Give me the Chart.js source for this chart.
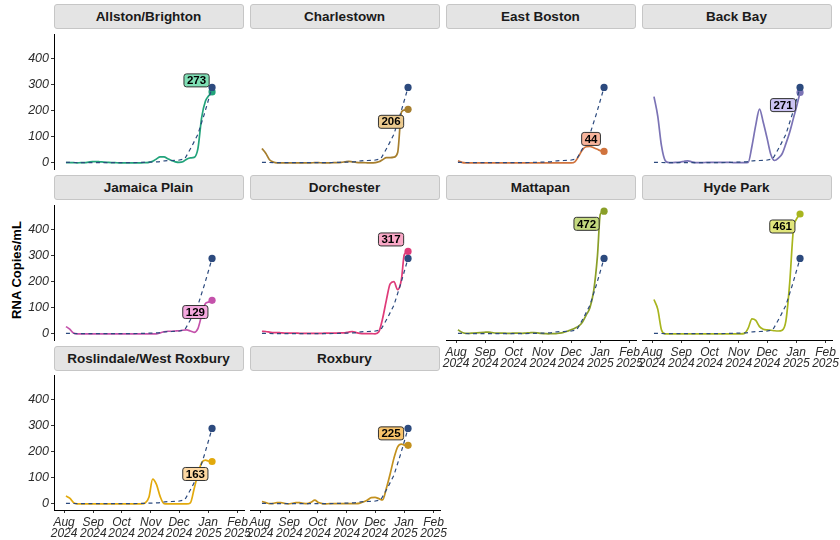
<!DOCTYPE html>
<html>
<head>
<meta charset="utf-8">
<script src="https://cdn.jsdelivr.net/npm/chart.js@4.4.1/dist/chart.umd.min.js"></script>
<style>
  body { margin: 0; background: #fff; width: 840px; height: 540px; position: relative; overflow: hidden;
         font-family: 'Liberation Sans', Arial, sans-serif; }
  .strip { position: absolute; height: 25px; background: #e4e4e4; border: 1px solid #c6c6c6; border-radius: 3px;
           box-sizing: border-box; font-weight: bold; font-size: 13.5px; line-height: 23px; text-align: center; color: #1a1a1a; }
  canvas { position: absolute; }
  #ytitle { position: absolute; left: 16px; top: 270px; transform: translate(-50%, -50%) rotate(-90deg);
            font-weight: bold; font-size: 13px; white-space: nowrap; color: #000; }
</style>
</head>
<body>
<div id="ytitle">RNA Copies/mL</div>
<script>
// days since Aug 1 2024
const days = [2, 6, 10, 14, 18, 22, 26, 30, 34, 38, 42, 46, 50, 54, 58, 62, 66, 70, 74, 78,
              82, 86, 90, 94, 98, 102, 106, 110, 114, 118, 122, 126, 130, 134, 138, 142, 146, 150, 153, 157];

const allstonBrighton = [1, 1, 1, 0, 1, 1, 3, 5, 5, 4, 3, 2, 1, 1, 0, 0, 0, 0, 0, 0,
                         0, 1, 2, 6, 15, 23, 23, 16, 9, 4, 2, 4, 14, 19, 21, 55, 175, 238, 256, 273];
const charlestown = [55, 37, 12, 3, 0, 0, 0, 0, 0, 0, 0, 0, 0, 0, 1, 1, 0, 0, 0, 1,
                     1, 2, 4, 6, 4, 2, 1, 1, 0, 0, 1, 4, 12, 20, 20, 22, 40, 195, 203, 206];
const eastBoston = [8, 2, 0, 0, 0, 0, 0, 0, 0, 0, 0, 0, 0, 0, 0, 0, 0, 0, 0, 0,
                    0, 0, 0, 0, 0, 0, 0, 0, 0, 0, 0, 4, 25, 50, 62, 63, 58, 52, 47, 44];
const backBay = [255, 180, 65, 8, 1, 1, 2, 3, 6, 8, 4, 1, 1, 1, 2, 2, 2, 2, 2, 2,
                 2, 1, 1, 1, 1, 2, 65, 145, 207, 155, 95, 32, 9, 18, 35, 74, 118, 172, 212, 271];
const jamaicaPlain = [28, 18, 3, 0, 0, 0, 0, 0, 0, 0, 0, 0, 0, 0, 0, 0, 0, 0, 0, 0,
                      0, 0, 0, 0, 0, 4, 8, 10, 10, 11, 12, 14, 15, 11, 6, 20, 72, 117, 122, 129];
const dorchester = [10, 9, 7, 5, 5, 4, 3, 3, 3, 3, 2, 2, 2, 2, 2, 2, 2, 3, 3, 3,
                    3, 4, 4, 7, 9, 5, 2, 1, 1, 1, 0, 8, 59, 130, 192, 201, 170, 210, 305, 317];
const mattapan = [16, 6, 2, 2, 3, 4, 5, 6, 7, 5, 3, 3, 3, 2, 2, 3, 3, 2, 3, 4,
                  5, 4, 2, 1, 0, 1, 1, 3, 6, 10, 16, 22, 30, 45, 72, 100, 165, 300, 460, 472];
const hydePark = [132, 95, 15, 0, 0, 0, 0, 0, 0, 0, 0, 0, 0, 0, 0, 0, 0, 0, 0, 0,
                  0, 0, 0, 0, 2, 22, 58, 52, 28, 18, 15, 14, 12, 11, 14, 50, 195, 405, 440, 461];
const roslindaleWestRoxbury = [30, 22, 5, 0, 0, 0, 0, 0, 0, 0, 0, 0, 0, 0, 0, 0, 0, 0, 0, 0,
                               0, 3, 25, 95, 75, 28, 1, 0, 0, 0, 0, 0, 0, 4, 58, 115, 158, 168, 165, 163];
const roxbury = [9, 5, 1, 2, 5, 5, 2, 0, 2, 5, 5, 2, 1, 6, 14, 5, 1, 0, 1, 1,
                 1, 1, 1, 1, 1, 1, 3, 8, 15, 24, 25, 20, 15, 60, 115, 175, 219, 230, 226, 225];

// citywide reference (dashed)
const cityDays = [2, 16, 30, 44, 58, 72, 86, 100, 107, 114, 121, 128, 135, 142, 149, 157];
const cityVals = [2, 1, 1, 1, 1, 1, 2, 4, 8, 9, 10, 15, 60, 110, 190, 290];

const names = ['Allston/Brighton', 'Charlestown', 'East Boston', 'Back Bay', 'Jamaica Plain',
               'Dorchester', 'Mattapan', 'Hyde Park', 'Roslindale/West Roxbury', 'Roxbury'];
const series = [allstonBrighton, charlestown, eastBoston, backBay, jamaicaPlain,
                dorchester, mattapan, hydePark, roslindaleWestRoxbury, roxbury];

const monthTicks = [0, 31, 61, 92, 122, 153, 184];
const monthLabels = [['Aug', '2024'], ['Sep', '2024'], ['Oct', '2024'], ['Nov', '2024'],
                     ['Dec', '2024'], ['Jan', '2025'], ['Feb', '2025']];
const yTicks = [0, 100, 200, 300, 400];

// styling
const lineColors = ['#22a37b', '#a67e2e', '#d0733d', '#7b73b5', '#c452ab',
                    '#df3b79', '#8a9f28', '#a8b51e', '#e2a90c', '#c3911e'];
const labelFills = ['#7fdfb5', '#ecca8e', '#f8b49b', '#cbc3f2', '#f5a9df',
                    '#faa8c7', '#c4d97f', '#e1e67c', '#fed8a2', '#f8c36b'];
const labelShift = [[-15.5, -11.5], [-17, 12.5], [-13, -12.5], [-17, 12.7], [-16.7, 11.7],
                    [-17, -12], [-17.5, 12.7], [-17.7, 12.5], [-16.7, 12.5], [-17, -12]];
const cityColor = '#2c4a7e';
const fam = "'Liberation Sans', Arial, sans-serif";

const colLeft = [53.5, 249.5, 445.5, 641.5];
const rowTop = [29.5, 200.5, 371];
const panelW = 190, panelH = 139;
const padL = 50, padR = 15, padB = 30;

const endLabels = {
    id: 'endLabels',
    afterDatasetsDraw(chart) {
        const o = chart.options.plugins.endLabels;
        const meta = chart.getDatasetMeta(1);
        const pt = meta.data[meta.data.length - 1];
        const x = pt.x + o.dx, y = pt.y + o.dy;
        const ctx = chart.ctx;
        ctx.save();
        ctx.font = 'bold 11.5px ' + fam;
        const w = ctx.measureText(o.text).width + 6, h = 13;
        ctx.beginPath();
        ctx.roundRect(x - w / 2, y - h / 2, w, h, 2.5);
        ctx.fillStyle = o.fill;
        ctx.fill();
        ctx.lineWidth = 1;
        ctx.strokeStyle = '#333';
        ctx.stroke();
        ctx.fillStyle = '#000';
        ctx.textAlign = 'center';
        ctx.textBaseline = 'middle';
        ctx.fillText(o.text, x, y + 0.5);
        ctx.restore();
    }
};

names.forEach((name, i) => {
    const row = Math.floor(i / 4), col = i % 4;
    const showX = i >= 6;
    const showY = col === 0;
    const left = colLeft[col], top = rowTop[row];

    const strip = document.createElement('div');
    strip.className = 'strip';
    strip.textContent = name;
    strip.style.left = left + 'px';
    strip.style.top = (top - 25.5) + 'px';
    strip.style.width = panelW + 'px';
    document.body.appendChild(strip);

    const canvas = document.createElement('canvas');
    canvas.width = padL + panelW + padR;
    canvas.height = panelH + padB;
    canvas.style.left = (left - padL) + 'px';
    canvas.style.top = top + 'px';
    document.body.appendChild(canvas);

    const vals = series[i];
    const n = vals.length;
    const last = vals[n - 1];

    new Chart(canvas, {
        type: 'line',
        data: {
            datasets: [{
                data: cityDays.map((d, k) => ({ x: d, y: cityVals[k] })),
                borderColor: cityColor,
                borderWidth: 1.2,
                borderDash: [4, 3.5],
                tension: 0,
                pointRadius: c => c.dataIndex === cityDays.length - 1 ? 3.6 : 0,
                pointBackgroundColor: cityColor,
                pointBorderWidth: 0
            }, {
                data: days.map((d, k) => ({ x: d, y: vals[k] })),
                borderColor: lineColors[i],
                borderWidth: 1.7,
                cubicInterpolationMode: 'monotone',
                pointRadius: c => c.dataIndex === n - 1 ? 3.6 : 0,
                pointBackgroundColor: lineColors[i],
                pointBorderWidth: 0
            }]
        },
        options: {
            responsive: false,
            animation: false,
            events: [],
            layout: { padding: { left: 0, right: padR, top: 0, bottom: 0 } },
            scales: {
                x: {
                    type: 'linear',
                    min: -10.7,
                    max: 190.9,
                    afterBuildTicks: s => { s.ticks = monthTicks.map(v => ({ value: v })); },
                    afterFit: s => { s.height = padB; s.paddingLeft = 0; s.paddingRight = 0; },
                    ticks: {
                        display: showX,
                        autoSkip: false,
                        maxRotation: 0,
                        padding: 4,
                        color: '#2b2b2b',
                        font: { family: fam, size: 12, style: 'italic', lineHeight: 0.95 },
                        callback: (v, idx) => monthLabels[idx]
                    },
                    grid: { display: showX, drawOnChartArea: false, tickLength: 3, tickColor: '#333' },
                    border: { display: showX, color: '#000', width: 1 }
                },
                y: {
                    min: -23.6,
                    max: 495.6,
                    afterBuildTicks: s => { s.ticks = yTicks.map(v => ({ value: v })); },
                    afterFit: s => { s.width = padL; s.paddingTop = 0; s.paddingBottom = 0; },
                    ticks: {
                        display: showY,
                        padding: 2,
                        color: '#2b2b2b',
                        font: { family: fam, size: 12.5, style: 'italic' }
                    },
                    grid: { display: showY, drawOnChartArea: false, tickLength: 3, tickColor: '#333' },
                    border: { display: showY, color: '#000', width: 1 }
                }
            },
            plugins: {
                legend: { display: false },
                tooltip: { enabled: false },
                endLabels: {
                    text: String(Math.round(last)),
                    fill: labelFills[i],
                    dx: labelShift[i][0],
                    dy: labelShift[i][1]
                }
            }
        },
        plugins: [endLabels]
    });
});
</script>
</body>
</html>
